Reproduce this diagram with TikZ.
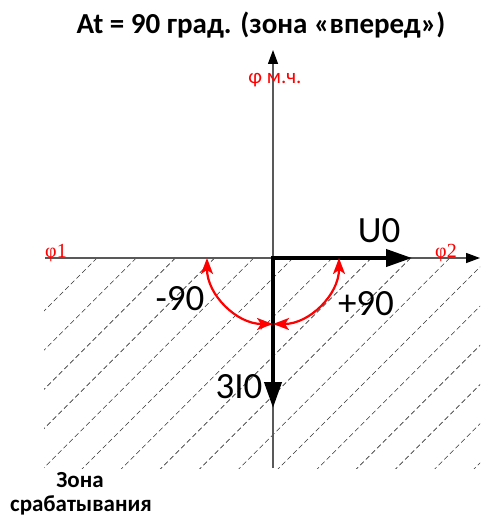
\documentclass[tikz,border=0pt]{standalone}
\usepackage{fontspec}
\setmainfont{Carlito}
\newfontfamily\serifphi{Liberation Serif}
\usetikzlibrary{arrows.meta}
\begin{document}
\begin{tikzpicture}[x=1pt,y=-1pt,
  axis/.style={draw=black!65, line width=1.3pt},
  axtip/.style={-{Triangle[length=14pt,width=10pt,color=black]}},
  vec/.style={line width=4pt, line cap=rect, -{Triangle[length=26pt,width=17pt]}},
  ang/.style={red, line width=2.2pt, {Stealth[length=16pt,width=12pt,inset=4pt]}-{Stealth[length=16pt,width=12pt,inset=4pt]}},
  hatch/.style={draw=black!80, line width=0.6pt, dash pattern=on 5pt off 3pt},
  lbl/.style={font=\fontsize{37}{37}\selectfont, inner sep=0pt, anchor=base},
  phil/.style={red, font=\serifphi\fontsize{20}{20}\selectfont, inner sep=0pt, anchor=base},
  bold/.style={font=\bfseries\fontsize{29}{29}\selectfont, inner sep=0pt, anchor=base},
  zone/.style={font=\bfseries\fontsize{23}{23}\selectfont, inner sep=0pt, anchor=base},
]
\useasboundingbox (0,0) rectangle (480,516);

% hatching of the operating zone
\begin{scope}
  \clip (44,258) rectangle (480,468);
  \foreach \k in {0,...,15}
    \draw[hatch] (97+39.2*\k,258) -- ++(-230,230);
\end{scope}

% coordinates
\coordinate (O) at (273,258);
\coordinate (Ybot) at (273,468);
\coordinate (Ytop) at (273,50);
\coordinate (Xl) at (45,258);
\coordinate (Xr) at (480,258);
\coordinate (Uend) at (412,258);
\coordinate (Iend) at (273,408);
\coordinate (L) at (207,258);
\coordinate (R) at (339,258);

% axes
\draw[axis,axtip] (Ybot) -- (Ytop);
\draw[axis,axtip] (Xl) -- (Xr);

% vectors
\draw[vec] (O) -- (Uend);
\draw[vec] (O) -- (Iend);

% angle arcs
\draw[ang] (L) arc[start angle=180, end angle=90, radius=66];
\draw[ang] (R) arc[start angle=0, end angle=90, radius=66];

% labels
\node[bold] (title) at (261,34) {At = 90 град. (зона «вперед»)};
\node[red, font=\fontsize{21}{21}\selectfont, inner sep=0pt, anchor=base] (phimch) at (275,84) {φ м.ч.};
\node[phil] (phi1) at (56,257) {φ1};
\node[phil] (phi2) at (446,257) {φ2};
\node[lbl] (U0) at (379,242) {U0};
\node[lbl] (m90) at (180,310) {-90};
\node[lbl] (p90) at (366,315) {+90};
\node[lbl] (I0) at (239,398) {3I0};
\node[zone] (zona1) at (80,487) {Зона};
\node[zone] (zona2) at (81,511) {срабатывания};
\end{tikzpicture}
\end{document}
